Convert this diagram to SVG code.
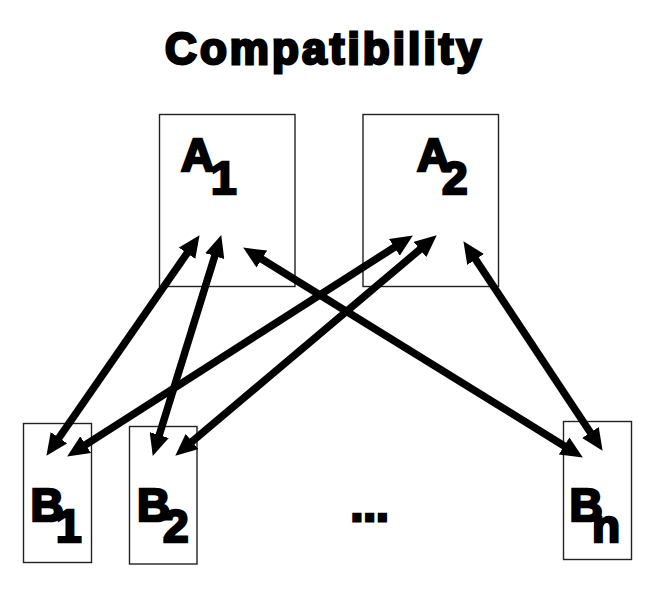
<svg xmlns="http://www.w3.org/2000/svg" width="661" height="598" viewBox="0 0 661 598">
<style>
.box{fill:none;stroke:#222;stroke-width:1.4}
.lbl{font-family:"Liberation Sans",Arial,sans-serif;font-weight:bold;font-size:46px;fill:#000;stroke:#000;stroke-width:2.6;stroke-linejoin:miter}
.title{font-family:"Liberation Sans",Arial,sans-serif;font-weight:bold;font-size:44px;fill:#000;stroke:#000;stroke-width:2.8}
.conn{stroke:#000;stroke-width:7.5;fill:none;marker-start:url(#ah);marker-end:url(#ah)}
</style>
<defs>
<marker id="ah" viewBox="0 0 22 20" refX="11" refY="10" markerWidth="22" markerHeight="20" markerUnits="userSpaceOnUse" orient="auto-start-reverse">
<path d="M0,0 L22,10 L0,20 z" fill="#000"/>
</marker>
</defs>
<rect width="661" height="598" fill="#fff"/>
<text class="title" x="165" y="64" textLength="316" lengthAdjust="spacing">Compatibility</text>
<g id="A1">
<rect class="box" x="159.5" y="114.5" width="135.5" height="172"/>
<text class="lbl" x="181" y="170.5">A<tspan x="211" y="193.5">1</tspan></text>
</g>
<g id="A2">
<rect class="box" x="363" y="114.5" width="135.5" height="172"/>
<text class="lbl" x="417" y="170.5">A<tspan x="442" y="193.5">2</tspan></text>
</g>
<g id="B1">
<rect class="box" x="23.5" y="423.5" width="68" height="139"/>
<text class="lbl" x="30.5" y="520.5">B<tspan x="56" y="541.5">1</tspan></text>
</g>
<g id="B2">
<rect class="box" x="129.5" y="426.5" width="67.5" height="137.5"/>
<text class="lbl" x="137" y="520.5">B<tspan x="163" y="541.5">2</tspan></text>
</g>
<g id="Bn">
<rect class="box" x="563.5" y="421.5" width="68" height="138"/>
<text class="lbl" x="569.5" y="520.5">B<tspan x="592" y="542">n</tspan></text>
</g>
<text class="lbl" x="350.5" y="520.5" style="stroke-width:2.8">...</text>
<g id="connectors">
<line class="conn" x1="193.3" y1="244.2" x2="52.7" y2="446.8"/>
<line class="conn" x1="218.0" y1="245.6" x2="156.0" y2="445.5"/>
<line class="conn" x1="252.5" y1="253.3" x2="573.5" y2="451.7"/>
<line class="conn" x1="403.6" y1="241.4" x2="76.4" y2="450.6"/>
<line class="conn" x1="428.3" y1="242.4" x2="183.7" y2="448.6"/>
<line class="conn" x1="469.5" y1="250.3" x2="596.5" y2="441.7"/>
</g>
</svg>
